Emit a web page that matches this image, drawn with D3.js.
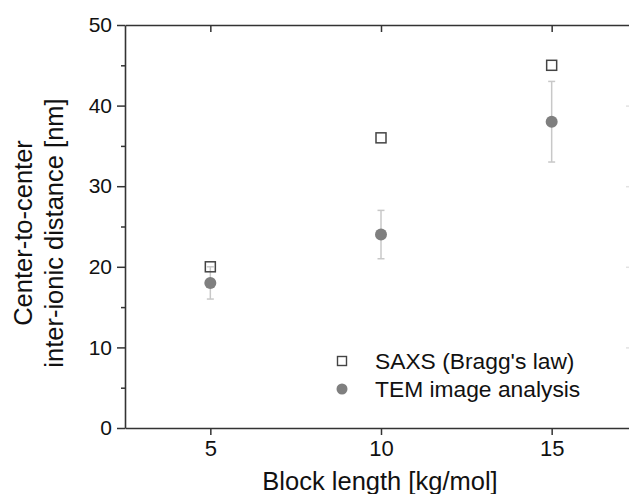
<!DOCTYPE html>
<html>
<head>
<meta charset="utf-8">
<script src="https://cdn.jsdelivr.net/npm/d3@7"></script>
<style>
  body { margin: 0; background: #fff; }
  svg { display: block; font-family: "Liberation Sans", Arial, sans-serif; }
</style>
</head>
<body>
<div id="chart"></div>
<script>
// block length [kg/mol]
const blockLength = [5, 10, 15];
// SAXS (Bragg's law) distance [nm]
const saxsValues = [20, 36, 45];
// TEM image analysis distance [nm] and error range
const temValues = [18, 24, 38];
const temLow = [16, 21, 33];
const temHigh = [20, 27, 43];

const xTicks = [5, 10, 15];
const yTicks = [0, 10, 20, 30, 40, 50];
const yMinorTicks = [5, 15, 25, 35, 45];
const legendLabels = ["SAXS (Bragg's law)", "TEM image analysis"];

const W = 629, H = 494;
const margin = { top: 25, right: -8, bottom: 66, left: 125 };

const svg = d3.select('#chart').append('svg')
  .attr('width', W)
  .attr('height', H);

const x = d3.scaleLinear().domain([2.5, 17.5]).range([margin.left, W - margin.right]);
const y = d3.scaleLinear().domain([0, 50]).range([H - margin.bottom, margin.top]);

const axisColor = '#333';

/* faint right axis ticks (cut at edge) */
svg.append('g')
  .attr('transform', 'translate(' + x(17.5) + ',0)')
  .call(d3.axisLeft(y).tickValues([10, 20, 30, 40]).tickSize(-11).tickFormat(''))
  .call(g => g.select('.domain').remove())
  .call(g => g.selectAll('line').attr('stroke', '#e2e2e2').attr('stroke-width', 1.5).attr('transform', 'scale(-1,1)'));

/* top axis */
svg.append('g')
  .attr('transform', 'translate(0,' + y(50) + ')')
  .call(d3.axisTop(x).tickValues(xTicks).tickSize(-7).tickSizeOuter(0).tickFormat(''))
  .call(g => g.select('.domain').attr('stroke', axisColor).attr('stroke-width', 1.6))
  .call(g => g.selectAll('line').attr('stroke', axisColor).attr('stroke-width', 1.5));

/* bottom axis */
svg.append('g')
  .attr('transform', 'translate(0,' + y(0) + ')')
  .call(d3.axisBottom(x).tickValues(xTicks).tickSize(7).tickSizeOuter(0).tickPadding(5))
  .call(g => g.select('.domain').attr('stroke', axisColor).attr('stroke-width', 1.6))
  .call(g => g.selectAll('line').attr('stroke', axisColor).attr('stroke-width', 1.5))
  .call(g => g.selectAll('text').attr('fill', '#111').style('font-size', '22px'));

/* left axis */
svg.append('g')
  .attr('transform', 'translate(' + x(2.5) + ',0)')
  .call(d3.axisLeft(y).tickValues(yTicks).tickSize(8).tickSizeOuter(0).tickPadding(5))
  .call(g => g.select('.domain').attr('stroke', axisColor).attr('stroke-width', 1.6))
  .call(g => g.selectAll('line').attr('stroke', axisColor).attr('stroke-width', 1.5))
  .call(g => g.selectAll('text').attr('fill', '#111').style('font-size', '21px'));

svg.append('g')
  .attr('transform', 'translate(' + x(2.5) + ',0)')
  .call(d3.axisLeft(y).tickValues(yMinorTicks).tickSize(4).tickFormat(''))
  .call(g => g.select('.domain').remove())
  .call(g => g.selectAll('line').attr('stroke', axisColor).attr('stroke-width', 1.5));

/* axis titles */
svg.append('text')
  .attr('x', 380)
  .attr('y', 490)
  .attr('text-anchor', 'middle')
  .attr('fill', '#111')
  .style('font-size', '25.5px')
  .text('Block length [kg/mol]');

const yTitle = svg.append('text')
  .attr('transform', 'translate(0,233) rotate(-90)')
  .attr('text-anchor', 'middle')
  .attr('fill', '#111')
  .style('font-size', '25.5px');
yTitle.append('tspan').attr('x', 0).attr('y', 32).text('Center-to-center');
yTitle.append('tspan').attr('x', 0).attr('y', 63).text('inter-ionic distance [nm]');

/* error bars */
const temData = blockLength.map((d, i) => ({ x: d, y: temValues[i], lo: temLow[i], hi: temHigh[i] }));
const saxsData = blockLength.map((d, i) => ({ x: d, y: saxsValues[i] }));

const err = svg.append('g').attr('stroke', '#c8c8c8').attr('stroke-width', 1.5);
err.selectAll('line.v').data(temData).join('line')
  .attr('class', 'v')
  .attr('x1', d => x(d.x)).attr('x2', d => x(d.x))
  .attr('y1', d => y(d.lo)).attr('y2', d => y(d.hi));
err.selectAll('line.lo').data(temData).join('line')
  .attr('class', 'lo')
  .attr('x1', d => x(d.x) - 3.5).attr('x2', d => x(d.x) + 3.5)
  .attr('y1', d => y(d.lo)).attr('y2', d => y(d.lo));
err.selectAll('line.hi').data(temData).join('line')
  .attr('class', 'hi')
  .attr('x1', d => x(d.x) - 3.5).attr('x2', d => x(d.x) + 3.5)
  .attr('y1', d => y(d.hi)).attr('y2', d => y(d.hi));

/* TEM circles */
svg.append('g').selectAll('circle').data(temData).join('circle')
  .attr('cx', d => x(d.x))
  .attr('cy', d => y(d.y))
  .attr('r', 6)
  .attr('fill', '#7f7f7f');

/* SAXS squares */
const sq = 10;
svg.append('g').selectAll('rect').data(saxsData).join('rect')
  .attr('x', d => x(d.x) - sq / 2)
  .attr('y', d => y(d.y) - sq / 2)
  .attr('width', sq)
  .attr('height', sq)
  .attr('fill', 'none')
  .attr('stroke', '#444')
  .attr('stroke-width', 1.5);

/* legend */
const legend = svg.append('g').attr('transform', 'translate(342,361)');
legend.append('rect')
  .attr('x', -4.5).attr('y', -4.5).attr('width', 9).attr('height', 9)
  .attr('fill', 'none').attr('stroke', '#444').attr('stroke-width', 1.4);
legend.append('circle')
  .attr('cx', 0).attr('cy', 28).attr('r', 5.5)
  .attr('fill', '#7f7f7f');
legend.selectAll('text').data(legendLabels).join('text')
  .attr('x', 33)
  .attr('y', (d, i) => i * 28 + 8)
  .attr('fill', '#111')
  .style('font-size', '22.8px')
  .text(d => d);
</script>
</body>
</html>
